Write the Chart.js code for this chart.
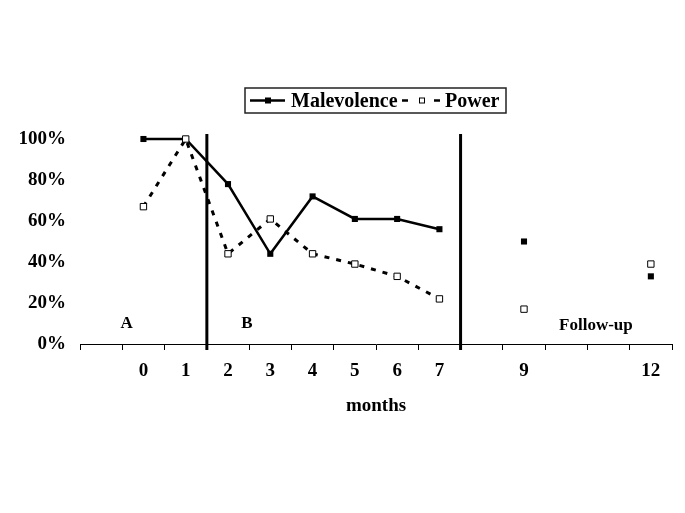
<!DOCTYPE html>
<html>
<head>
<meta charset="utf-8">
<script src="https://cdn.jsdelivr.net/npm/chart.js@4/dist/chart.umd.min.js"></script>
<style>
  html, body { margin: 0; padding: 0; background: #fff; }
  #wrap { width: 685px; height: 513px; }
</style>
</head>
<body>
<div id="wrap"><canvas id="chart"></canvas></div>
<script>
// months on the x axis, blank slots keep the spacing of the original
var months = ['', '0', '1', '2', '3', '4', '5', '6', '7', '', '9', '', '', '12'];
var malevolence = [null, 100, 100, 78, 44, 72, 61, 61, 56, null, 50, null, null, 33];
var power = [null, 67, 100, 44, 61, 44, 39, 33, 22, null, 17, null, null, 39];
var yTicks = [0, 20, 40, 60, 80, 100];
// phase separators sit between these category pairs
var phaseBreaks = [[2, 3], [8, 9]];
var phaseLabels = [
    { text: 'A', at: 0.6, y: 10 },
    { text: 'B', at: 3.45, y: 10 },
    { text: 'Follow-up', at: 11.7, y: 9 }
];

var serif = "'Liberation Serif', 'Times New Roman', serif";

var phasePlugin = {
    id: 'phases',
    afterDatasetsDraw: function (chart) {
        var ctx = chart.ctx;
        var xs = chart.scales.x, ys = chart.scales.y;
        ctx.save();
        ctx.strokeStyle = '#000';
        ctx.lineWidth = 3;
        phaseBreaks.forEach(function (p) {
            var x = (xs.getPixelForValue(p[0]) + xs.getPixelForValue(p[1])) / 2;
            ctx.beginPath();
            ctx.moveTo(x, chart.chartArea.top - 5);
            ctx.lineTo(x, chart.chartArea.bottom + 6);
            ctx.stroke();
        });
        ctx.fillStyle = '#000';
        ctx.textAlign = 'center';
        ctx.textBaseline = 'middle';
        ctx.font = 'bold 17px ' + serif;
        phaseLabels.forEach(function (l) {
            ctx.fillText(l.text, xs.getPixelForValue(l.at), ys.getPixelForValue(l.y));
        });
        ctx.restore();
    }
};

var legendPlugin = {
    id: 'boxLegend',
    afterDraw: function (chart) {
        var ctx = chart.ctx;
        var left = 245, top = 88, w = 261, h = 25, cy = top + h / 2;
        ctx.save();
        ctx.strokeStyle = '#222';
        ctx.lineWidth = 1.5;
        ctx.strokeRect(left, top, w, h);
        ctx.fillStyle = '#000';
        ctx.strokeStyle = '#000';
        // solid sample
        ctx.lineWidth = 2.5;
        ctx.beginPath();
        ctx.moveTo(250, cy);
        ctx.lineTo(285, cy);
        ctx.stroke();
        ctx.fillRect(265, cy - 3, 6, 6);
        ctx.font = 'bold 20px ' + serif;
        ctx.textBaseline = 'middle';
        ctx.fillText('Malevolence', 291, cy + 1);
        // dashed sample
        ctx.lineWidth = 2.5;
        ctx.beginPath();
        ctx.moveTo(402, cy); ctx.lineTo(408, cy);
        ctx.moveTo(434, cy); ctx.lineTo(440, cy);
        ctx.stroke();
        ctx.lineWidth = 1;
        ctx.fillStyle = '#fff';
        ctx.fillRect(419.5, cy - 2.5, 5, 5);
        ctx.strokeRect(419.5, cy - 2.5, 5, 5);
        ctx.fillStyle = '#000';
        ctx.fillText('Power', 445, cy + 1);
        ctx.restore();
    }
};

var ctx = document.getElementById('chart');
var chart = new Chart(ctx, {
    type: 'line',
    data: {
        labels: months,
        datasets: [
            {
                label: 'Malevolence',
                data: malevolence,
                order: 1,
                borderColor: '#000',
                backgroundColor: '#000',
                borderWidth: 2.5,
                pointStyle: 'rect',
                pointRadius: 4.3,
                pointBorderWidth: 0,
                spanGaps: false,
                clip: false,
                tension: 0
            },
            {
                label: 'Power',
                data: power,
                order: 0,
                borderColor: '#000',
                backgroundColor: '#fff',
                borderWidth: 3,
                borderDash: [5, 7],
                pointStyle: 'rect',
                pointRadius: 4.5,
                pointBorderWidth: 1,
                pointBorderColor: '#000',
                spanGaps: false,
                clip: false,
                tension: 0
            }
        ]
    },
    options: {
        responsive: true,
        maintainAspectRatio: false,
        animation: false,
        layout: { padding: { top: 139, left: 0, right: 13, bottom: 0 } },
        plugins: {
            legend: { display: false },
            tooltip: { enabled: false }
        },
        scales: {
            x: {
                type: 'category',
                offset: true,
                grid: {
                    offset: true,
                    drawOnChartArea: false,
                    drawTicks: true,
                    tickLength: 6,
                    color: '#000',
                    lineWidth: 1
                },
                border: { display: true, color: '#000', width: 1 },
                ticks: {
                    color: '#000',
                    font: { family: serif, size: 19, weight: 'bold' },
                    padding: 10,
                    maxRotation: 0,
                    autoSkip: false
                },
                title: {
                    display: true,
                    text: 'months',
                    color: '#000',
                    font: { family: serif, size: 19, weight: 'bold' },
                    padding: { top: 0, bottom: 96 }
                },
                afterFit: function (scale) { scale.height = 169; }
            },
            y: {
                min: 0,
                max: 100,
                afterBuildTicks: function (scale) {
                    scale.ticks = yTicks.map(function (v) { return { value: v }; });
                },
                grid: { display: false, drawTicks: false },
                border: { display: false },
                ticks: {
                    color: '#000',
                    font: { family: serif, size: 19, weight: 'bold' },
                    padding: 14,
                    callback: function (v) { return v + '%'; }
                },
                afterFit: function (scale) { scale.width = 80; }
            }
        }
    },
    plugins: [phasePlugin, legendPlugin]
});
</script>
</body>
</html>
